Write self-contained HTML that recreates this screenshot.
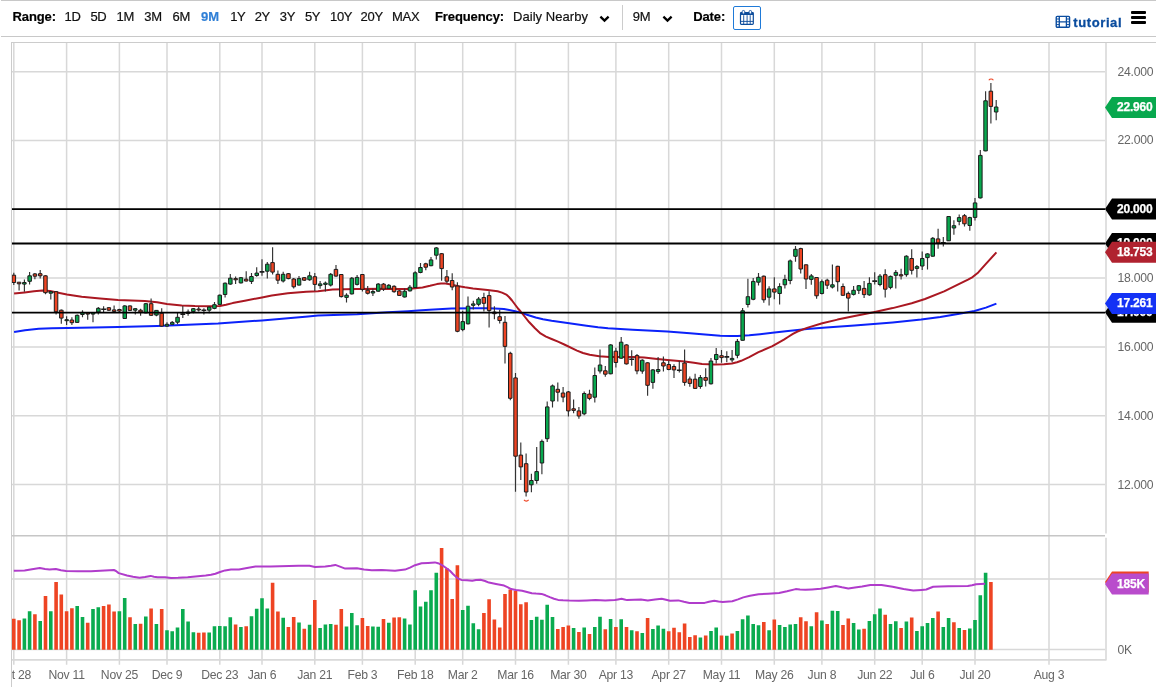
<!DOCTYPE html>
<html><head><meta charset="utf-8"><title>chart</title>
<style>
html,body{margin:0;padding:0;background:#fff;}
body{width:1156px;height:692px;position:relative;overflow:hidden;font-family:"Liberation Sans",sans-serif;-webkit-font-smoothing:antialiased;}
#wrap{position:absolute;left:0;top:0;width:1156px;height:692px;will-change:transform;}
.tb{position:absolute;left:1px;top:0;width:1155px;height:36px;border-top:1px solid #c8c8c8;border-bottom:1px solid #c8c8c8;box-sizing:content-box;height:35px}
.t{position:absolute;top:9px;font-size:13px;line-height:16px;color:#111;white-space:nowrap;letter-spacing:-0.3px;-webkit-text-stroke:0.2px currentColor}
.b{font-weight:bold;color:#000;letter-spacing:-0.1px}
</style></head><body><div id="wrap">
<svg width="1156" height="692" viewBox="0 0 1156 692" style="position:absolute;left:0;top:0">
<path d="M13.8 43V664.7M66.6 43V664.7M119.4 43V664.7M167 43V664.7M219.8 43V664.7M262 43V664.7M314.8 43V664.7M362.4 43V664.7M415.2 43V664.7M462.7 43V664.7M515.5 43V664.7M568.4 43V664.7M615.9 43V664.7M668.7 43V664.7M721.5 43V664.7M774.3 43V664.7M821.9 43V664.7M874.7 43V664.7M922.2 43V664.7M975 43V664.7M1049 43V664.7M12 71.8H1105M12 140.6H1105M12 209.3H1105M12 278.1H1105M12 346.9H1105M12 415.8H1105M12 484.5H1105M12 578.9H1105M12 649.5H1105" stroke="#d8d8d8" stroke-width="1.5" fill="none"/>
<path d="M11.5 42V687M11 42.5H1156" stroke="#cccccc" stroke-width="1" fill="none"/>
<path d="M12 535.8H1105" stroke="#c6c6c6" stroke-width="1.5" fill="none"/>
<path d="M1106 43V533.6M1106 537.8V660.5M12 659.9H1106" stroke="#d9d9d9" stroke-width="1.6" fill="none"/>
<defs><clipPath id="cp"><rect x="12" y="43" width="1093" height="617"/></clipPath><clipPath id="cl"><rect x="12" y="660" width="1144" height="32"/></clipPath></defs>
<g clip-path="url(#cp)">
<polyline points="14.1,332 25,330.2 38.7,328.8 52,328.3 66.9,328 93.9,327.6 118,326.9 157.1,326.1 181.7,325.1 218,323.6 262,320.4 308,316.4 318,315.6 357.1,314.2 387.8,312.3 408,311.2 418,310.5 429.7,309.7 451.4,308.6 473,308.2 488,308.3 494.7,308.5 503.9,309 509.2,310 514,311 519.8,312.4 527,314.8 535.7,317.5 543,319.2 551.6,320.7 567.5,323.1 586.6,325.8 598,327.3 608,328.3 632.7,329.8 667.4,331.6 690,333.3 702,334.3 720.3,335.7 730,336.1 737.7,336.1 749.2,335.3 760,334.2 772.4,332.8 788,331 807,329.1 826.1,327.5 854.6,325.6 873.6,324.1 892.7,322.4 921.2,319.6 940.3,317.1 959.3,313.8 974.5,311 985.9,307.6 996.4,303.6" fill="none" stroke="#0b22fa" stroke-width="2" stroke-linejoin="round"/>
<polyline points="14.1,293.6 24.6,292.4 34,291.2 42.4,290.5 50,291 57.1,292.4 66.9,294.4 81.7,296.7 100.1,298.5 118,300 144.8,301 157.1,302.2 166.9,304 181.7,305.5 195,306.1 208,306.2 219.7,306 226,304.8 232.6,303.1 244.8,300.7 262,297.4 271.8,295.4 287.8,293.3 306.2,291.7 318,291.2 332.6,289.6 357.1,289 381.7,288.7 400,288.9 408,288.9 415,288.3 422.5,287.4 430,285.8 436.9,284.1 441,283.5 445.6,283.4 451,284.5 457.1,286 465,287.3 473,288.4 487.5,289.9 497.6,291.3 502,292.6 506.3,294.6 509,297 512,300.5 515,304.5 518,308.5 520.6,311.5 525,317 529.3,322.3 535,328.3 540.5,333.4 546,336.6 551.6,339 558,341.7 564.3,344.5 577,350.6 583,353 589.7,354.8 599.3,356.3 609.6,357 620,356.9 632.7,357 644.2,357.6 655,358.7 667.4,359.9 684.7,361.4 694,362.7 702,363.9 714.6,364.5 724,364.2 731.9,363.4 737,362.3 741.2,360.8 749.2,357.1 758.5,352.2 772.4,346.1 783.9,339.7 788,337 792.9,333.9 797.5,331.5 807,327.9 822.3,323.2 837.5,319.6 854.6,316.1 873.6,312.3 892.7,308.1 911.7,303.2 925,299 944.1,291.4 959.3,283.8 968,279.6 972.6,277.1 978.3,272.4 985.9,263.8 996.4,252.4" fill="none" stroke="#aa1822" stroke-width="2" stroke-linejoin="round"/>
<path d="M13.8 272.7V285M19.1 282.2V290.5M24.4 279.5V291.7M29.6 272.1V284.6M34.9 273.1V279.2M40.2 269.9V278.5M45.5 275.2V294.2M50.8 291.1V299.5M56.1 291.1V314.5M61.3 309.5V323.7M66.6 316.3V324.9M71.9 317.3V325.1M77.2 314.5V322.7M82.5 310.2V317.3M87.7 312V319.7M93 312V322.2M98.3 307.1V314.5M103.6 306.2V312M108.9 307.1V311.1M114.1 305.5V312.6M119.4 308.7V312.9M124.7 305.2V319M130 305.5V310.8M135.3 308.3V314.5M140.6 308.7V315.7M145.8 303V313.2M151.1 298.5V316M156.4 309.9V316.3M161.7 308.3V326.7M167 322.2V326.7M172.2 321V324.6M177.5 312.9V324.3M182.8 305.9V318.1M188.1 309.5V315.7M193.4 308V313.2M198.7 306.7V311.4M203.9 308.3V314.5M209.2 306.2V313.2M214.5 302V309.2M219.8 294.5V305M225.1 282.6V297.6M230.3 274V284.7M235.6 276.5V284.1M240.9 277V283.5M246.2 271.2V281.6M251.5 273.1V283.9M256.7 267.2V276.7M262 259.3V275.8M267.3 262V278.6M272.6 247.3V274.5M277.9 270.6V284.1M283.2 271.8V282.6M288.4 273.1V279.2M293.7 278V288.4M299 276.1V285.6M304.3 277V281M309.6 271.8V280.7M314.8 273.1V290.9M320.1 281V288.8M325.4 281.4V291.5M330.7 273.1V286.6M336 265.1V276.7M341.3 274V297.4M346.5 293.3V302.5M351.8 277V294.5M357.1 274.9V285.4M362.4 274V291.5M367.7 286V294.5M372.9 288.4V296.1M378.2 282.9V291.7M383.5 283.1V290.9M388.8 284.1V289M394.1 285.3V292.7M399.3 290V296.1M404.6 288.4V297.6M409.9 285.1V291.5M415.2 271.2V288M420.5 263.1V273.2M425.8 262.8V270.3M431 257V266.3M436.3 246.9V259.5M441.6 253V280.7M446.9 270V283.3M452.2 273.2V290.3M457.4 282.2V332.2M462.7 310.8V331.3M468 296.4V324.5M473.3 300.7V309.4M478.6 297.1V306.2M483.9 292.7V311.5M489.1 291.3V327.5M494.4 306.3V319.2M499.7 309.7V323.5M505 315.9V363.6M510.3 351.7V400.3M515.5 373.1V491.7M520.8 442.4V480.1M526.1 453.5V496.4M531.4 473.7V492.3M536.7 447.1V483.7M541.9 439.5V474.2M547.2 401.4V441.9M552.5 384.6V407.5M557.8 382.4V401.4M563.1 387.1V402.2M568.4 390.9V416.5M573.6 399.5V413.3M578.9 406.9V418.8M584.2 391.4V415.3M589.5 389.8V400.2M594.8 367.6V402.5M600 349.5V373.6M605.3 366.1V376.8M610.6 344.3V374.3M615.9 347.7V367.4M621.2 337.1V358.7M626.5 344.3V364.5M631.7 350.3V365.7M637 354.1V374.3M642.3 359.3V373.8M647.6 362.2V395.7M652.9 369.1V388.8M658.1 357V373.8M663.4 356.4V371.4M668.7 360.5V370.3M674 364.2V378M679.3 361V372.6M684.6 349.5V385.7M689.8 376.4V386.8M695.1 373.8V389.1M700.4 374.9V388.8M705.7 368.3V386.5M711 357.9V384.5M716.2 348V363.4M721.5 350.1V362.8M726.8 351.3V362.3M732.1 350.1V362.3M737.4 339.1V358.2M742.6 308.1V340.6M747.9 278.7V307.5M753.2 277.9V300.2M758.5 272.9V285.4M763.8 275.6V302.7M769.1 286.3V305.6M774.3 277.3V299.3M779.6 283.3V304.5M784.9 274.8V288.6M790.2 259.4V284.2M795.5 246.1V261.7M800.7 247.8V273.6M806 264.4V288.9M811.3 274.1V284.8M816.6 277V298.7M821.9 279.4V294.4M827.2 278.7V288.9M832.4 264.4V288.6M837.7 265.7V291.4M843 283.4V295.8M848.3 291.5V311.5M853.6 286V295.5M858.8 285.1V294.1M864.1 281.1V298.1M869.4 277.3V295.8M874.7 272.2V284.5M880 274.1V286.3M885.2 269.2V297.6M890.5 275.6V289.2M895.8 270.1V288.6M901.1 268.7V279.6M906.4 255.3V276.8M911.7 249.3V274.5M916.9 264.9V277.6M922.2 251.4V270.1M927.5 253.3V269.5M932.8 237.1V256.8M938.1 228.7V248.7M943.3 237.1V246.6M948.6 216V241.1M953.9 220.3V234.7M959.2 214.5V225.3M964.5 213.9V226.6M969.8 216.8V230.7M975 198V220.6M980.3 149.9V198.5M985.6 91.2V151.3M990.9 83V123.5M996.2 100V120.3" stroke="#333" stroke-width="1.15" fill="none"/>
<path d="M22.6 282.5h3.5v1.6h-3.5zM27.9 275.8h3.5v5.5h-3.5zM49 291.7h3.5v1.5h-3.5zM64.9 319.7h3.5v1h-3.5zM75.4 315.3h3.5v7.1h-3.5zM80.7 312.4h3.5v2.1h-3.5zM91.3 312.6h3.5v1.5h-3.5zM96.6 308.3h3.5v3.7h-3.5zM123 305.9h3.5v12.6h-3.5zM133.5 308.7h3.5v1.5h-3.5zM144.1 303.7h3.5v9.2h-3.5zM154.7 310.4h3.5v4.7h-3.5zM165.2 324.3h3.5v1.8h-3.5zM170.5 322.4h3.5v1.9h-3.5zM175.8 317.3h3.5v4.9h-3.5zM186.3 312h3.5v1.5h-3.5zM191.6 308.7h3.5v2.9h-3.5zM207.5 307.1h3.5v3.1h-3.5zM212.7 304.7h3.5v3.7h-3.5zM218 295.2h3.5v9.2h-3.5zM223.3 283.2h3.5v11.3h-3.5zM228.6 278.2h3.5v5.9h-3.5zM239.2 277.7h3.5v5.2h-3.5zM249.7 276.5h3.5v4.9h-3.5zM255 273.1h3.5v2.4h-3.5zM265.6 264.2h3.5v7h-3.5zM281.4 274.3h3.5v6.7h-3.5zM297.3 278.6h3.5v6.5h-3.5zM307.8 275.8h3.5v4h-3.5zM318.4 283.9h3.5v1.7h-3.5zM323.7 283.1h3.5v1.3h-3.5zM328.9 274.3h3.5v10.8h-3.5zM344.8 295.2h3.5v2.2h-3.5zM350.1 278.2h3.5v15.7h-3.5zM355.3 277.4h3.5v7h-3.5zM371.2 291.5h3.5v1.5h-3.5zM376.5 284.1h3.5v7.1h-3.5zM387 285.3h3.5v3.1h-3.5zM402.9 291.2h3.5v5.8h-3.5zM408.2 287.2h3.5v3.7h-3.5zM413.4 272.8h3.5v14.7h-3.5zM418.7 267.5h3.5v5h-3.5zM429.3 259.9h3.5v5.8h-3.5zM434.6 247.9h3.5v7.3h-3.5zM461 321.6h3.5v8h-3.5zM466.3 306.2h3.5v17.6h-3.5zM471.5 303.9h3.5v1.4h-3.5zM476.8 299h3.5v5.3h-3.5zM529.6 480.5h3.5v4.3h-3.5zM534.9 471.6h3.5v8.9h-3.5zM540.2 441.4h3.5v21.6h-3.5zM545.5 406.9h3.5v31.8h-3.5zM550.8 385.9h3.5v15.1h-3.5zM582.5 393.5h3.5v20.3h-3.5zM593 375.5h3.5v21.7h-3.5zM598.3 365h3.5v6h-3.5zM608.9 344.9h3.5v28.9h-3.5zM619.4 342.2h3.5v16h-3.5zM640.5 360.2h3.5v10.9h-3.5zM651.1 369.9h3.5v12.5h-3.5zM656.4 369.5h3.5v1.9h-3.5zM698.6 377.6h3.5v8.9h-3.5zM709.2 361h3.5v22.8h-3.5zM714.5 354.5h3.5v5h-3.5zM730.3 358.4h3.5v1.5h-3.5zM735.6 341.4h3.5v13.9h-3.5zM740.9 310.8h3.5v29.5h-3.5zM746.2 296.7h3.5v7.8h-3.5zM751.5 281.4h3.5v17.9h-3.5zM756.7 277.3h3.5v4.9h-3.5zM767.3 288.9h3.5v8.3h-3.5zM777.9 286.6h3.5v6.9h-3.5zM783.1 279.4h3.5v5.4h-3.5zM788.4 260.9h3.5v19.6h-3.5zM793.7 249.3h3.5v7h-3.5zM809.6 275.9h3.5v3.5h-3.5zM820.1 281.7h3.5v11.8h-3.5zM830.7 284.8h3.5v2.3h-3.5zM851.8 290.3h3.5v4.1h-3.5zM857.1 285.7h3.5v4.6h-3.5zM867.7 283.4h3.5v11.5h-3.5zM878.2 276.1h3.5v8.4h-3.5zM888.8 276.4h3.5v11h-3.5zM894.1 272.4h3.5v2.9h-3.5zM904.6 256.2h3.5v18.5h-3.5zM915.2 266.6h3.5v1.8h-3.5zM920.5 258.5h3.5v7.5h-3.5zM925.7 253.9h3.5v3.7h-3.5zM931 238.3h3.5v17.9h-3.5zM946.9 216.5h3.5v24.3h-3.5zM952.2 225.7h3.5v2.3h-3.5zM957.4 217.6h3.5v3.8h-3.5zM968 217.6h3.5v7.9h-3.5zM973.3 202.9h3.5v14.5h-3.5zM978.6 155.4h3.5v42.5h-3.5zM983.8 100.8h3.5v50.1h-3.5zM994.4 107h3.5v5h-3.5z" fill="#08a84e" stroke="#1c1c1c" stroke-width="1"/>
<path d="M12.1 275.2h3.5v7.3h-3.5zM17.3 282.2h3.5v1.6h-3.5zM33.2 273.9h3.5v2.3h-3.5zM38.5 273.7h3.5v2.1h-3.5zM43.7 275.8h3.5v16.9h-3.5zM54.3 291.7h3.5v20.1h-3.5zM59.6 310.2h3.5v7.9h-3.5zM70.1 320h3.5v2.7h-3.5zM86 312.9h3.5v1.2h-3.5zM107.1 307.7h3.5v2.5h-3.5zM112.4 309.9h3.5v1.5h-3.5zM117.7 309.5h3.5v1.5h-3.5zM128.2 305.9h3.5v4.5h-3.5zM138.8 310.2h3.5v1.8h-3.5zM149.4 303.7h3.5v11.6h-3.5zM159.9 313.2h3.5v12.9h-3.5zM196.9 309h3.5v1h-3.5zM233.9 278.6h3.5v1.2h-3.5zM244.4 279.2h3.5v1.8h-3.5zM270.8 262.6h3.5v9.5h-3.5zM276.1 274.3h3.5v5.9h-3.5zM286.7 273.7h3.5v4.9h-3.5zM292 279h3.5v7.8h-3.5zM302.5 277.7h3.5v2.5h-3.5zM313.1 276.7h3.5v7.7h-3.5zM334.2 269.4h3.5v6.7h-3.5zM339.5 274.5h3.5v22.1h-3.5zM360.6 274.5h3.5v14.8h-3.5zM365.9 290.2h3.5v3.1h-3.5zM381.8 284.1h3.5v4.9h-3.5zM392.3 286.3h3.5v5.4h-3.5zM397.6 290.9h3.5v4.5h-3.5zM424 263.8h3.5v3.4h-3.5zM439.9 253.7h3.5v14.9h-3.5zM445.1 276.8h3.5v4.4h-3.5zM450.4 280.5h3.5v6.5h-3.5zM455.7 286h3.5v45.3h-3.5zM482.1 297.5h3.5v5.8h-3.5zM487.4 295.6h3.5v15h-3.5zM492.7 312h3.5v1.7h-3.5zM497.9 316.7h3.5v3.8h-3.5zM503.2 322.3h3.5v24.1h-3.5zM508.5 353.3h3.5v45h-3.5zM513.8 377.9h3.5v78.3h-3.5zM519.1 455.1h3.5v11.8h-3.5zM524.4 463.7h3.5v28.3h-3.5zM556 389.3h3.5v2.9h-3.5zM561.3 393h3.5v4.1h-3.5zM566.6 391.9h3.5v19h-3.5zM571.9 408.8h3.5v1.6h-3.5zM577.2 410.9h3.5v5.1h-3.5zM587.7 394.1h3.5v4.3h-3.5zM603.6 370.8h3.5v3.4h-3.5zM614.1 351.2h3.5v11.3h-3.5zM624.7 344.9h3.5v19h-3.5zM635.3 355.6h3.5v15.3h-3.5zM645.8 362.8h3.5v22.5h-3.5zM661.7 362.8h3.5v3.2h-3.5zM667 364.5h3.5v5h-3.5zM672.2 366.5h3.5v3.4h-3.5zM682.8 363h3.5v19.4h-3.5zM688.1 379h3.5v4.4h-3.5zM693.4 379.2h3.5v9.2h-3.5zM703.9 377.6h3.5v2.7h-3.5zM719.8 355.7h3.5v1.9h-3.5zM762 276.2h3.5v23.6h-3.5zM772.6 288.9h3.5v3.2h-3.5zM799 248.6h3.5v20.4h-3.5zM804.3 264.8h3.5v14.2h-3.5zM814.8 277.5h3.5v18.3h-3.5zM825.4 280.2h3.5v5h-3.5zM836 266.3h3.5v15.4h-3.5zM841.2 286.5h3.5v8.8h-3.5zM846.5 293.4h3.5v4.7h-3.5zM862.4 288.4h3.5v6.2h-3.5zM883.5 274.7h3.5v14.5h-3.5zM899.3 274.7h3.5v1.2h-3.5zM909.9 258.5h3.5v11.8h-3.5zM936.3 238.9h3.5v4.1h-3.5zM962.7 215.7h3.5v8.1h-3.5zM989.1 91.2h3.5v15.2h-3.5z" fill="#ee4423" stroke="#1c1c1c" stroke-width="1"/>
<path d="M101.2 309.3h4.8M180.4 314.1h4.8M201.5 310.3h4.8M259.6 271.9h4.8M629.3 359.3h4.8M676.9 370.2h4.8M724.4 356.9h4.8M872.3 281.1h4.8M940.9 242.9h4.8" stroke="#1c1c1c" stroke-width="1.6" fill="none"/>
<path d="M12 209.1H1105" stroke="#000" stroke-width="1.8"/>
<path d="M12 243.5H1105" stroke="#000" stroke-width="1.8"/>
<path d="M12 312.55H1105" stroke="#000" stroke-width="1.8"/>
<path d="M988.8 80.2A2.8 2.8 0 0 1 993.4 80.2" stroke="#ee4423" stroke-width="1.1" fill="none"/>
<path d="M524 499.9A2.8 2.8 0 0 0 528.6 499.9" stroke="#ee4423" stroke-width="1.1" fill="none"/>
<path d="M22.6 618.4h3.6V649.7h-3.6zM27.8 611.2h3.6V649.7h-3.6zM38.4 620.9h3.6V649.7h-3.6zM49 611.2h3.6V649.7h-3.6zM75.4 606h3.6V649.7h-3.6zM80.7 617h3.6V649.7h-3.6zM91.2 609.1h3.6V649.7h-3.6zM96.5 607.3h3.6V649.7h-3.6zM117.6 611.2h3.6V649.7h-3.6zM122.9 598.1h3.6V649.7h-3.6zM133.5 624.1h3.6V649.7h-3.6zM144 616.5h3.6V649.7h-3.6zM154.6 624.1h3.6V649.7h-3.6zM165.2 630.3h3.6V649.7h-3.6zM170.4 631.3h3.6V649.7h-3.6zM175.7 627.4h3.6V649.7h-3.6zM181 609.1h3.6V649.7h-3.6zM186.3 621.6h3.6V649.7h-3.6zM191.6 632.2h3.6V649.7h-3.6zM207.4 632.4h3.6V649.7h-3.6zM212.7 626.2h3.6V649.7h-3.6zM218 626h3.6V649.7h-3.6zM223.3 626.2h3.6V649.7h-3.6zM228.5 617.2h3.6V649.7h-3.6zM239.1 627.1h3.6V649.7h-3.6zM249.7 616.3h3.6V649.7h-3.6zM254.9 608.7h3.6V649.7h-3.6zM260.2 598.3h3.6V649.7h-3.6zM265.5 608.4h3.6V649.7h-3.6zM281.4 617.7h3.6V649.7h-3.6zM297.2 622.6h3.6V649.7h-3.6zM307.8 624.8h3.6V649.7h-3.6zM318.3 628h3.6V649.7h-3.6zM323.6 624.4h3.6V649.7h-3.6zM328.9 623.9h3.6V649.7h-3.6zM344.7 626.4h3.6V649.7h-3.6zM350 613.1h3.6V649.7h-3.6zM355.3 625.2h3.6V649.7h-3.6zM371.1 626.4h3.6V649.7h-3.6zM376.4 626.7h3.6V649.7h-3.6zM387 622.7h3.6V649.7h-3.6zM402.8 618.6h3.6V649.7h-3.6zM408.1 624.4h3.6V649.7h-3.6zM413.4 590.2h3.6V649.7h-3.6zM418.7 606.4h3.6V649.7h-3.6zM424 601.8h3.6V649.7h-3.6zM429.2 590.3h3.6V649.7h-3.6zM434.5 572.7h3.6V649.7h-3.6zM460.9 610h3.6V649.7h-3.6zM466.2 605.8h3.6V649.7h-3.6zM471.5 623.3h3.6V649.7h-3.6zM476.8 629.2h3.6V649.7h-3.6zM529.6 619.9h3.6V649.7h-3.6zM534.9 616.7h3.6V649.7h-3.6zM540.1 619.8h3.6V649.7h-3.6zM545.4 604.7h3.6V649.7h-3.6zM550.7 617h3.6V649.7h-3.6zM571.8 628.1h3.6V649.7h-3.6zM582.4 627.4h3.6V649.7h-3.6zM593 627.1h3.6V649.7h-3.6zM598.2 616.7h3.6V649.7h-3.6zM608.8 619.1h3.6V649.7h-3.6zM619.4 619.2h3.6V649.7h-3.6zM629.9 630.3h3.6V649.7h-3.6zM640.5 633.1h3.6V649.7h-3.6zM651.1 628.9h3.6V649.7h-3.6zM656.3 625.5h3.6V649.7h-3.6zM661.6 628.8h3.6V649.7h-3.6zM698.6 637.5h3.6V649.7h-3.6zM709.2 630.9h3.6V649.7h-3.6zM714.4 627.4h3.6V649.7h-3.6zM725 635.8h3.6V649.7h-3.6zM735.6 630.9h3.6V649.7h-3.6zM740.8 619.2h3.6V649.7h-3.6zM746.1 615.6h3.6V649.7h-3.6zM751.4 624.1h3.6V649.7h-3.6zM756.7 625.3h3.6V649.7h-3.6zM767.3 630.3h3.6V649.7h-3.6zM777.8 625.1h3.6V649.7h-3.6zM783.1 626.9h3.6V649.7h-3.6zM788.4 624.6h3.6V649.7h-3.6zM793.7 624.1h3.6V649.7h-3.6zM809.5 626.2h3.6V649.7h-3.6zM820.1 620.6h3.6V649.7h-3.6zM830.6 610.8h3.6V649.7h-3.6zM835.9 610.9h3.6V649.7h-3.6zM851.8 623h3.6V649.7h-3.6zM857 629.6h3.6V649.7h-3.6zM867.6 620.9h3.6V649.7h-3.6zM872.9 614.3h3.6V649.7h-3.6zM878.2 608.4h3.6V649.7h-3.6zM888.7 624.1h3.6V649.7h-3.6zM894 621.2h3.6V649.7h-3.6zM904.6 621.6h3.6V649.7h-3.6zM915.1 631h3.6V649.7h-3.6zM920.4 626.2h3.6V649.7h-3.6zM925.7 623h3.6V649.7h-3.6zM931 617.9h3.6V649.7h-3.6zM941.5 626.9h3.6V649.7h-3.6zM946.8 617.9h3.6V649.7h-3.6zM957.4 628.1h3.6V649.7h-3.6zM968 628.5h3.6V649.7h-3.6zM973.2 619.9h3.6V649.7h-3.6zM978.5 595.3h3.6V649.7h-3.6zM983.8 572.7h3.6V649.7h-3.6z" fill="#0aab4f"/>
<path d="M12 618.8h3.6V649.7h-3.6zM17.3 620.2h3.6V649.7h-3.6zM33.1 614.3h3.6V649.7h-3.6zM43.7 596h3.6V649.7h-3.6zM54.3 582.1h3.6V649.7h-3.6zM59.5 594.6h3.6V649.7h-3.6zM64.8 611.2h3.6V649.7h-3.6zM70.1 608.2h3.6V649.7h-3.6zM85.9 622.7h3.6V649.7h-3.6zM101.8 606.1h3.6V649.7h-3.6zM107.1 604.6h3.6V649.7h-3.6zM112.3 611.5h3.6V649.7h-3.6zM128.2 617.2h3.6V649.7h-3.6zM138.8 623.7h3.6V649.7h-3.6zM149.3 608.4h3.6V649.7h-3.6zM159.9 609.1h3.6V649.7h-3.6zM196.9 632.7h3.6V649.7h-3.6zM202.1 632.4h3.6V649.7h-3.6zM233.8 624.4h3.6V649.7h-3.6zM244.4 626.2h3.6V649.7h-3.6zM270.8 582.8h3.6V649.7h-3.6zM276.1 611.5h3.6V649.7h-3.6zM286.6 627.1h3.6V649.7h-3.6zM291.9 617h3.6V649.7h-3.6zM302.5 628.8h3.6V649.7h-3.6zM313 599.9h3.6V649.7h-3.6zM334.2 624.7h3.6V649.7h-3.6zM339.5 608.9h3.6V649.7h-3.6zM360.6 618.1h3.6V649.7h-3.6zM365.9 626h3.6V649.7h-3.6zM381.7 618.9h3.6V649.7h-3.6zM392.3 617.6h3.6V649.7h-3.6zM397.5 617.2h3.6V649.7h-3.6zM439.8 548h3.6V649.7h-3.6zM445.1 568.2h3.6V649.7h-3.6zM450.4 599h3.6V649.7h-3.6zM455.6 565.2h3.6V649.7h-3.6zM482.1 612.9h3.6V649.7h-3.6zM487.3 599.2h3.6V649.7h-3.6zM492.6 619.5h3.6V649.7h-3.6zM497.9 627.5h3.6V649.7h-3.6zM503.2 593.9h3.6V649.7h-3.6zM508.5 589.5h3.6V649.7h-3.6zM513.7 590.7h3.6V649.7h-3.6zM519 604.3h3.6V649.7h-3.6zM524.3 602.2h3.6V649.7h-3.6zM556 628.9h3.6V649.7h-3.6zM561.3 627.1h3.6V649.7h-3.6zM566.6 625.5h3.6V649.7h-3.6zM577.1 632h3.6V649.7h-3.6zM587.7 634h3.6V649.7h-3.6zM603.5 629.2h3.6V649.7h-3.6zM614.1 626.9h3.6V649.7h-3.6zM624.7 627.1h3.6V649.7h-3.6zM635.2 631.3h3.6V649.7h-3.6zM645.8 618.1h3.6V649.7h-3.6zM666.9 631.3h3.6V649.7h-3.6zM672.2 627.8h3.6V649.7h-3.6zM677.5 632.2h3.6V649.7h-3.6zM682.8 623.4h3.6V649.7h-3.6zM688 637.1h3.6V649.7h-3.6zM693.3 635.2h3.6V649.7h-3.6zM703.9 635.4h3.6V649.7h-3.6zM719.7 635.4h3.6V649.7h-3.6zM730.3 633.4h3.6V649.7h-3.6zM762 621.9h3.6V649.7h-3.6zM772.5 619.5h3.6V649.7h-3.6zM798.9 617.2h3.6V649.7h-3.6zM804.2 621.3h3.6V649.7h-3.6zM814.8 612.3h3.6V649.7h-3.6zM825.4 624.1h3.6V649.7h-3.6zM841.2 625.1h3.6V649.7h-3.6zM846.5 618.5h3.6V649.7h-3.6zM862.3 628.8h3.6V649.7h-3.6zM883.4 614.7h3.6V649.7h-3.6zM899.3 628.1h3.6V649.7h-3.6zM909.9 617.4h3.6V649.7h-3.6zM936.3 611.5h3.6V649.7h-3.6zM952.1 622.3h3.6V649.7h-3.6zM962.7 629.9h3.6V649.7h-3.6zM989.1 582.1h3.6V649.7h-3.6z" fill="#ee4423"/>
<polyline points="13.8,570.8 24.6,570.4 32,569.2 39.8,568 45,568.9 49.5,569.4 55.8,569 61,570.2 66.1,571.1 78,571.2 91,571.3 104.9,570.4 113.9,570 116,571 118.7,573.1 127,575.5 133,576.8 139.5,577.7 145,576.9 150.6,575.9 154,576.7 157.5,577.3 165,577.2 171.1,578 178,577.8 187.7,577.3 205.7,575.5 211,574.8 215.4,573.8 220,572 225.1,570.4 231,569.6 238.9,569.4 247,568 255.5,566.6 270.7,566.4 298.4,565.8 309.5,565.8 315,566.9 325.3,566.6 331,565.7 335.3,564.9 340,566.6 345.2,568.6 356.9,568.2 364,569.4 371.8,570.2 381.8,569.9 395,570.7 405,569.6 410,567.6 415,565.2 421.6,563.3 428,562.9 434.9,562.4 438,563.2 441.6,564.9 445.5,567.5 449.9,570.7 453,574 456.5,577.4 459,579 461.5,579.9 467,580.3 472.3,580.8 476,580 480.6,579.8 485,581 488.9,582.6 496,584 504.1,585.6 507.5,587.2 511.1,589.1 516,590 522.1,590.7 527,592 531.8,593.2 536,593.6 541.5,593.9 545.5,595.3 549.8,597.1 554,598.7 558.1,599.9 563,600.3 569.2,600.6 578.9,600.8 587,600.5 595.5,600.1 605.2,600.6 614.9,600.1 618,599.4 621.5,598.8 624.5,599.5 627.1,600.1 634,599.7 640.9,599.4 647.8,600.4 655,599.5 661.7,598.8 666,599.8 670,600.8 678.3,600.4 684,601.8 689.4,602.9 704.6,602.9 709,601.8 714.3,600.8 718.5,601.5 722.6,601.9 732.3,601.2 738,599.4 743.3,597.4 750,595.8 758.6,594.3 768,593.7 779.1,592.9 787,591.2 795.7,589.1 800,589.5 805.4,589.8 812,589.4 820.6,588.8 828,587.4 835.8,585.9 842,587.3 848.3,588.4 855,587.6 862.1,586.6 870.4,584.9 881.5,584.9 892.6,586.7 903.6,589.1 913.3,590.6 921.6,589.9 926.3,589.5 930,588 933.2,586.7 940,586.4 948.4,586.3 967.8,586 972,585.2 976.1,584.2 985.1,583.8" fill="none" stroke="#b03ccb" stroke-width="2" stroke-linejoin="round"/>
</g>
<g clip-path="url(#cl)" font-family="Liberation Sans, sans-serif" font-size="12.2" fill="#666" text-anchor="middle" letter-spacing="-0.25">
<text x="13.8" y="679.2">Oct 28</text>
<text x="66.6" y="679.2">Nov 11</text>
<text x="119.4" y="679.2">Nov 25</text>
<text x="167" y="679.2">Dec 9</text>
<text x="219.8" y="679.2">Dec 23</text>
<text x="262" y="679.2">Jan 6</text>
<text x="314.8" y="679.2">Jan 21</text>
<text x="362.4" y="679.2">Feb 3</text>
<text x="415.2" y="679.2">Feb 18</text>
<text x="462.7" y="679.2">Mar 2</text>
<text x="515.5" y="679.2">Mar 16</text>
<text x="568.4" y="679.2">Mar 30</text>
<text x="615.9" y="679.2">Apr 13</text>
<text x="668.7" y="679.2">Apr 27</text>
<text x="721.5" y="679.2">May 11</text>
<text x="774.3" y="679.2">May 26</text>
<text x="821.9" y="679.2">Jun 8</text>
<text x="874.7" y="679.2">Jun 22</text>
<text x="922.2" y="679.2">Jul 6</text>
<text x="975" y="679.2">Jul 20</text>
<text x="1049" y="679.2">Aug 3</text>
</g>
<g font-family="Liberation Sans, sans-serif" font-size="12.2" fill="#666" letter-spacing="-0.25">
<text x="1117.5" y="76">24.000</text>
<text x="1117.5" y="144.1">22.000</text>
<text x="1117.5" y="213.7">20.000</text>
<text x="1117.5" y="282.4">18.000</text>
<text x="1117.5" y="351.2">16.000</text>
<text x="1117.5" y="420.1">14.000</text>
<text x="1117.5" y="488.8">12.000</text>
<text x="1117.5" y="653.9">0K</text>
</g>
<path d="M1105 209 L1112 198.5 H1156.5 V219.5 H1112 Z" fill="#000"/>
<text x="1117" y="212.8" font-family="Liberation Sans, sans-serif" font-weight="bold" font-size="12" fill="#fff" stroke="#fff" stroke-width="0.25" letter-spacing="-0.2">20.000</text>
<path d="M1105 243.4 L1112 232.9 H1156.5 V253.9 H1112 Z" fill="#000"/>
<text x="1117" y="247.2" font-family="Liberation Sans, sans-serif" font-weight="bold" font-size="12" fill="#fff" stroke="#fff" stroke-width="0.25" letter-spacing="-0.2">19.000</text>
<path d="M1105 312.3 L1112 301.8 H1156.5 V322.8 H1112 Z" fill="#000"/>
<text x="1117" y="316.1" font-family="Liberation Sans, sans-serif" font-weight="bold" font-size="12" fill="#fff" stroke="#fff" stroke-width="0.25" letter-spacing="-0.2">17.000</text>
<path d="M1105 252.2 L1112 241.7 H1156.5 V262.7 H1112 Z" fill="#b0222f"/>
<text x="1117" y="256" font-family="Liberation Sans, sans-serif" font-weight="bold" font-size="12" fill="#fff" stroke="#fff" stroke-width="0.25" letter-spacing="-0.2">18.753</text>
<path d="M1105 303.6 L1112 293.1 H1156.5 V314.1 H1112 Z" fill="#1432f5"/>
<text x="1117" y="307.4" font-family="Liberation Sans, sans-serif" font-weight="bold" font-size="12" fill="#fff" stroke="#fff" stroke-width="0.25" letter-spacing="-0.2">17.261</text>
<path d="M1105 107.5 L1112 97 H1156.5 V118 H1112 Z" fill="#08a84e"/>
<text x="1117" y="111.3" font-family="Liberation Sans, sans-serif" font-weight="bold" font-size="12" fill="#fff" stroke="#fff" stroke-width="0.25" letter-spacing="-0.2">22.960</text>
<path d="M1105 582 L1112 571.5 H1148.7 V592.5 H1112 Z" fill="#ee4423"/>
<text x="1117" y="585.8" font-family="Liberation Sans, sans-serif" font-weight="bold" font-size="12" fill="#fff" stroke="#fff" stroke-width="0.25" letter-spacing="-0.2"></text>
<path d="M1105 584 L1112 573.5 H1148.7 V594.5 H1112 Z" fill="#b94ccc"/>
<text x="1117" y="587.8" font-family="Liberation Sans, sans-serif" font-weight="bold" font-size="12" fill="#fff" stroke="#fff" stroke-width="0.25" letter-spacing="-0.2">185K</text>
</svg>
<div class="tb"></div>
<span class="t b" style="left:12.5px">Range:</span>
<span class="t" style="left:64.6px">1D</span>
<span class="t" style="left:90.4px">5D</span>
<span class="t" style="left:116.6px">1M</span>
<span class="t" style="left:144.3px">3M</span>
<span class="t" style="left:172.5px">6M</span>
<span class="t b" style="left:201px;color:#2f7fd6">9M</span>
<span class="t" style="left:230.2px">1Y</span>
<span class="t" style="left:254.7px">2Y</span>
<span class="t" style="left:279.8px">3Y</span>
<span class="t" style="left:304.9px">5Y</span>
<span class="t" style="left:330px">10Y</span>
<span class="t" style="left:360.6px">20Y</span>
<span class="t" style="left:392px">MAX</span>
<span class="t b" style="left:435px">Frequency:</span>
<span class="t" style="left:513px;letter-spacing:0.05px">Daily Nearby</span>
<svg style="position:absolute;left:598px;top:13px" width="13" height="11" viewBox="0 0 13 11"><path d="M2.4 3.6L6.5 7.6L10.6 3.6" stroke="#000" stroke-width="2.3" fill="none"/></svg>
<div style="position:absolute;left:622px;top:5px;width:1px;height:25px;background:#ccc"></div>
<span class="t" style="left:632.8px">9M</span>
<svg style="position:absolute;left:661px;top:13px" width="13" height="11" viewBox="0 0 13 11"><path d="M2.4 3.6L6.5 7.6L10.6 3.6" stroke="#000" stroke-width="2.3" fill="none"/></svg>
<span class="t b" style="left:693.2px">Date:</span>
<div style="position:absolute;left:733px;top:6px;width:25.6px;height:21.6px;border:1.2px solid #1f7ad8;border-radius:2px;background:#fff"></div>
<svg style="position:absolute;left:739px;top:9px" width="16" height="17" viewBox="0 0 16 17"><g fill="none" stroke="#0d4c9b"><rect x="1.5" y="3.6" width="12.8" height="11.7" rx="0.8" stroke-width="1.2"/><rect x="1.5" y="3.4" width="12.8" height="2.6" fill="#0d4c9b" stroke="none"/><path d="M4.7 6.2V15.4M8.1 6.2V15.4M11.2 6.2V15.4M1.6 12.4H14.2" stroke-width="0.9"/><rect x="3.2" y="1.5" width="2.5" height="3.4" rx="1.1" fill="#f4f8ff" stroke-width="0.9"/><rect x="10.1" y="1.5" width="2.5" height="3.4" rx="1.1" fill="#f4f8ff" stroke-width="0.9"/></g></svg>
<svg style="position:absolute;left:1055px;top:15px" width="16" height="14" viewBox="0 0 16 14"><g fill="none" stroke="#0b4da0"><rect x="1.25" y="1.35" width="13.3" height="10.9" rx="1" stroke-width="1.4"/><path d="M4.3 1.3V12.3M11.4 1.3V12.3M4.3 6.8H11.4" stroke-width="1.3"/><path d="M1.2 4H4M1.2 6.8H4M1.2 9.6H4M11.8 4H14.6M11.8 6.8H14.6M11.8 9.6H14.6" stroke-width="1"/></g></svg>
<span class="t b" style="-webkit-text-stroke:0.3px #0a4c9e;left:1073.2px;top:15px;color:#0a4c9e;letter-spacing:0.62px">tutorial</span>
<div style="position:absolute;left:1131px;top:11px;width:15px;height:2.7px;background:#000;border-radius:1px"></div>
<div style="position:absolute;left:1131px;top:16px;width:15px;height:2.7px;background:#000;border-radius:1px"></div>
<div style="position:absolute;left:1131px;top:21px;width:15px;height:2.7px;background:#000;border-radius:1px"></div>

</div></body></html>
